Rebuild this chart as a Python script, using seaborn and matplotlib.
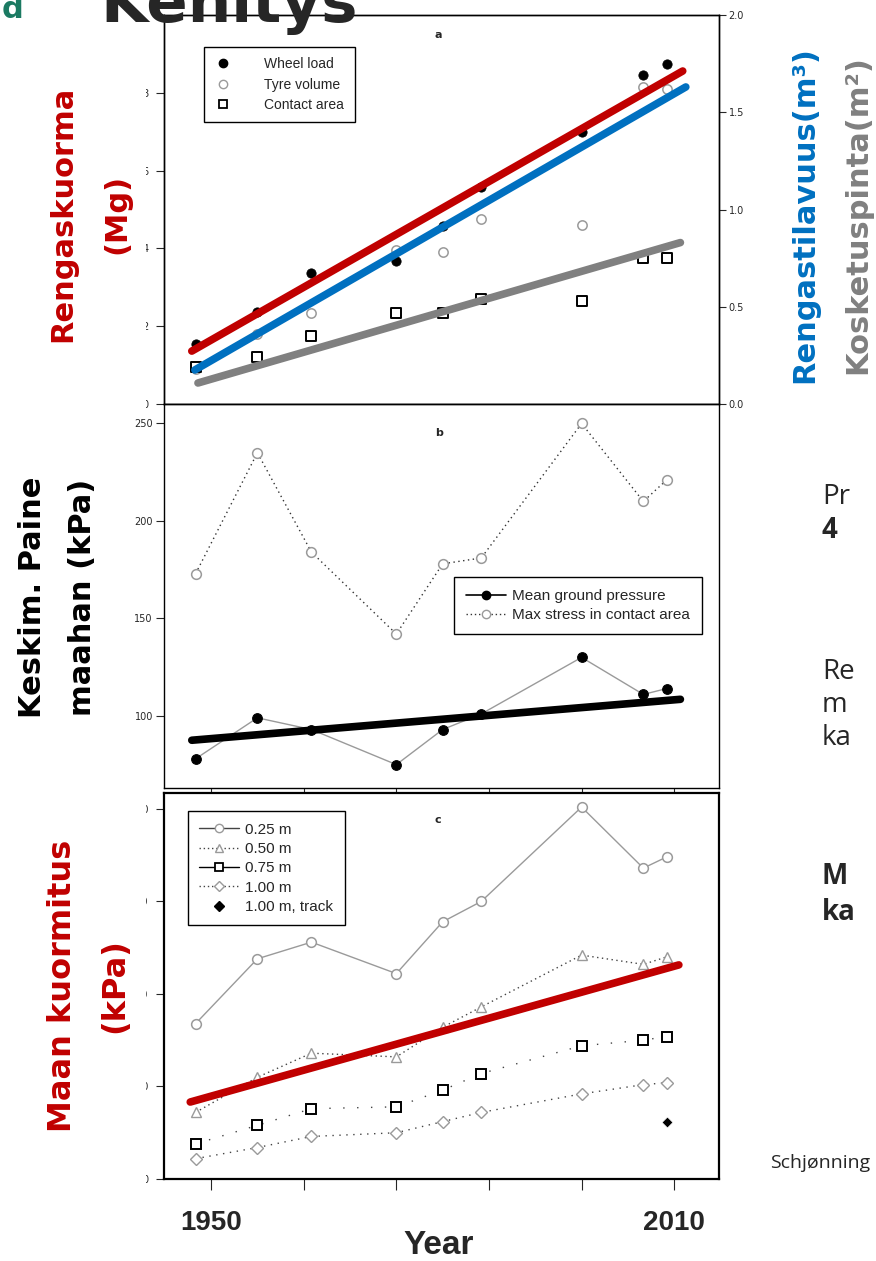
import numpy as np
import pandas as pd
import seaborn as sns
import matplotlib.pyplot as plt
from matplotlib.lines import Line2D
from matplotlib.transforms import Bbox, TransformedBbox

# observation years (shared by the three panels)
years = [1948, 1956, 1963, 1974, 1980, 1985, 1998, 2006, 2009]
year_ticks = [1950, 1962, 1974, 1986, 1998, 2010]
year_tick_labels = ['1950', '', '', '', '', '2010']

# panel a: wheel load (Mg, left axis), tyre volume (m3) and contact area (m2) on right axis
wheel_load = [1.54, 2.37, 3.37, 3.68, 4.58, 5.58, 6.99, 8.46, 8.74]
tyre_volume = [0.18, 0.36, 0.47, 0.79, 0.78, 0.95, 0.92, 1.63, 1.62]
contact_area = [0.19, 0.24, 0.35, 0.47, 0.47, 0.54, 0.53, 0.75, 0.75]
red_years, red_trend = [1947.5, 2011.1], [1.36, 8.56]
blue_years, blue_trend = [1947.9, 2011.5], [0.175, 1.63]
gray_years, gray_trend = [1948.3, 2010.8], [0.108, 0.83]

# panel b: pressures (kPa)
mean_pressure = [78, 99, 93, 75, 93, 101, 130, 111, 114]
max_stress = [173, 235, 184, 142, 178, 181, 250, 210, 221]
black_years, black_trend = [1947.5, 2010.8], [87.5, 108.5]

# panel c: vertical stress at depth (kPa)
stress_025 = [84, 119, 128, 111, 139, 150, 201, 168, 174]
stress_050 = [36, 55, 68, 66, 82, 93, 121, 116, 120]
stress_075 = [19, 29, 38, 39, 48, 57, 72, 75, 77]
stress_100 = [11, 17, 23, 25, 31, 36, 46, 51, 52]
track_year, track_100 = [2009], [31]
c_years, c_trend = [1947.3, 2010.6], [41.6, 115.7]

RED = '#C00000'
BLUE = '#0070C0'
GRAY = '#808080'
LGRAY = '#9a9a9a'

sns.set_style('ticks')
plt.rcParams['font.family'] = ['DejaVu Sans']
plt.rcParams['axes.edgecolor'] = 'black'
plt.rcParams['axes.linewidth'] = 1.0
NARROW = ['Liberation Sans Narrow', 'Liberation Sans', 'DejaVu Sans']

W, H = 876, 1261
fig = plt.figure(figsize=(W / 100, H / 100), dpi=100)


def box(l, t, r, b):
    return [l / W, 1 - b / H, (r - l) / W, (b - t) / H]


def clip_left(ax, x0):
    # the slide crops the left half of these tick labels
    bb = TransformedBbox(Bbox([[x0 / W, 0], [1, 1]]), fig.transFigure)
    for lbl in ax.get_yticklabels():
        lbl.set_clip_box(bb)
        lbl.set_clip_on(True)


ax_a = fig.add_axes(box(164, 15, 719, 404))
ax_b = fig.add_axes(box(164, 404, 719, 788))
ax_c = fig.add_axes(box(164, 793, 719, 1179))
ax_a2 = ax_a.twinx()
xlim = (1943.9, 2015.8)

# ---- panel a
sns.scatterplot(x=years, y=wheel_load, ax=ax_a, color='black', s=45, edgecolor='black', zorder=3)
sns.scatterplot(x=years, y=tyre_volume, ax=ax_a2, color='white', edgecolor=LGRAY, s=45, linewidth=1.1, zorder=2)
sns.scatterplot(x=years, y=contact_area, ax=ax_a2, marker='s', color='white', edgecolor='black', s=45,
                linewidth=1.4, zorder=3)
sns.lineplot(x=blue_years, y=blue_trend, ax=ax_a2, color=BLUE, lw=5.5, zorder=5)
sns.lineplot(x=gray_years, y=gray_trend, ax=ax_a2, color=GRAY, lw=5.5, zorder=5)
sns.lineplot(x=red_years, y=red_trend, ax=ax_a2, color=RED, lw=5.5, zorder=6,
             transform=ax_a.transData)
ax_a.set_xlim(xlim)
ax_a2.set_xlim(xlim)
ax_a.set_ylim(0, 10)
ax_a2.set_ylim(0, 2.0)
ax_a.set_xticks([])
ax_a.set_yticks([0, 2, 4, 6, 8])
ax_a2.set_yticks([0, 0.5, 1.0, 1.5, 2.0])
ax_a2.set_yticklabels(['0.0', '0.5', '1.0', '1.5', '2.0'])
ax_a.tick_params(axis='y', direction='out', length=6, labelsize=7, pad=5)
ax_a2.tick_params(axis='y', direction='out', length=5, labelsize=7, pad=2)
clip_left(ax_a, 146)
ax_a.text(0.494, 0.949, 'a', transform=ax_a.transAxes, ha='center', va='center', fontsize=8, fontweight='bold')
handles_a = [
    Line2D([], [], marker='o', color='black', ls='', ms=6),
    Line2D([], [], marker='o', mfc='white', mec=LGRAY, ls='', ms=6),
    Line2D([], [], marker='s', mfc='white', mec='black', mew=1.3, ls='', ms=6),
]
leg = ax_a2.legend(handles_a, ['Wheel load', 'Tyre volume', 'Contact area'], loc='upper left',
                   bbox_to_anchor=(0.072, 0.918), borderaxespad=0, fancybox=False, edgecolor='black',
                   framealpha=1, prop={'family': NARROW, 'size': 10}, handlelength=1.2,
                   handletextpad=2.4, labelspacing=0.45, borderpad=0.75)
leg.get_frame().set_linewidth(1.0)
ax_a.set_ylabel('Rengaskuorma\n(Mg)', color=RED, fontsize=22, fontweight='bold', linespacing=2.1)
ax_a.yaxis.set_label_coords(-0.058, 0.488)
ax_a2.set_ylabel('Rengastilavuus(m³)', color=BLUE, fontsize=22, fontweight='bold')
ax_a2.yaxis.set_label_coords(1.128, 0.486)
ax_a2.text(1.25, 0.486, 'Kosketuspinta(m²)', transform=ax_a2.transAxes, rotation=90, ha='center',
           va='center', color=GRAY, fontsize=22, fontweight='bold')

# ---- panel b
sns.lineplot(x=years, y=max_stress, ax=ax_b, color='#333333', lw=1.0, ls=(0, (1, 2.5)), marker='o', ms=7,
             mfc='white', mec=LGRAY, mew=1.1)
sns.lineplot(x=years, y=mean_pressure, ax=ax_b, color=LGRAY, lw=1.0, marker='o', ms=7,
             mfc='black', mec='black')
sns.lineplot(x=black_years, y=black_trend, ax=ax_b, color='black', lw=5.5, zorder=5)
ax_b.set_xlim(xlim)
ax_b.set_ylim(63, 260)
ax_b.set_xticks(year_ticks)
ax_b.set_xticklabels([])
ax_b.set_yticks([100, 150, 200, 250])
ax_b.tick_params(direction='out', length=6, labelsize=7, pad=2)
ax_b.text(0.496, 0.924, 'b', transform=ax_b.transAxes, ha='center', va='center', fontsize=8, fontweight='bold')
handles_b = [
    Line2D([], [], color='black', lw=1.2, marker='o', ms=6, mfc='black'),
    Line2D([], [], color='#333333', lw=1.0, ls=(0, (1, 2)), marker='o', ms=6, mfc='white', mec=LGRAY),
]
leg = ax_b.legend(handles_b, ['Mean ground pressure', 'Max stress in contact area'], loc='upper left',
                  bbox_to_anchor=(0.523, 0.549), borderaxespad=0, fancybox=False, edgecolor='black',
                  framealpha=1, prop={'family': NARROW, 'size': 11}, handlelength=2.6,
                  handletextpad=0.4, labelspacing=0.3, borderpad=0.8)
leg.get_frame().set_linewidth(1.0)
ax_b.set_ylabel('Keskim. Paine\nmaahan (kPa)', color='black', fontsize=22, fontweight='bold', linespacing=1.9)
ax_b.yaxis.set_label_coords(-0.121, 0.496)

# ---- panel c
sns.lineplot(x=years, y=stress_025, ax=ax_c, color=LGRAY, lw=1.0, marker='o', ms=7, mfc='white', mec=LGRAY, mew=1.1)
sns.lineplot(x=years, y=stress_050, ax=ax_c, color='#444444', lw=1.0, ls=(0, (1, 2.5)), marker='^', ms=7,
             mfc='white', mec=LGRAY, mew=1.0)
sns.lineplot(x=years, y=stress_075, ax=ax_c, color='#444444', lw=1.0, ls=(0, (1, 9)), marker='s', ms=7,
             mfc='white', mec='black', mew=1.4)
sns.lineplot(x=years, y=stress_100, ax=ax_c, color='#444444', lw=1.0, ls=(0, (1, 4)), marker='D', ms=6,
             mfc='white', mec=LGRAY, mew=1.0)
sns.scatterplot(x=track_year, y=track_100, ax=ax_c, marker='D', color='black', s=30)
sns.lineplot(x=c_years, y=c_trend, ax=ax_c, color=RED, lw=5.5, zorder=5)
ax_c.set_xlim(xlim)
ax_c.set_ylim(0, 208.6)
ax_c.set_yticks([0, 50, 100, 150, 200])
ax_c.set_xticks(year_ticks)
ax_c.set_xticklabels(year_tick_labels, fontsize=20, fontweight='bold', family=NARROW)
ax_c.tick_params(axis='x', direction='out', length=8, pad=14)
ax_c.tick_params(axis='y', direction='out', length=6, labelsize=7, pad=5)
for s in ax_c.spines.values():
    s.set_linewidth(1.6)
clip_left(ax_c, 146)
ax_c.text(0.494, 0.93, 'c', transform=ax_c.transAxes, ha='center', va='center', fontsize=8, fontweight='bold')
handles_c = [
    Line2D([], [], color='#444444', lw=1.0, marker='o', ms=6, mfc='white', mec=LGRAY),
    Line2D([], [], color='#444444', lw=1.0, ls=(0, (1, 2)), marker='^', ms=6, mfc='white', mec=LGRAY),
    Line2D([], [], color='black', lw=1.0, marker='s', ms=6, mfc='white', mec='black', mew=1.3),
    Line2D([], [], color='#444444', lw=1.0, ls=(0, (1, 2)), marker='D', ms=5, mfc='white', mec=LGRAY),
    Line2D([], [], color='black', ls='', marker='D', ms=5),
]
leg = ax_c.legend(handles_c, ['0.25 m', '0.50 m', '0.75 m', '1.00 m', '1.00 m, track'], loc='upper left',
                  bbox_to_anchor=(0.043, 0.953), borderaxespad=0, fancybox=False, edgecolor='black',
                  framealpha=1, prop={'family': NARROW, 'size': 11}, handlelength=2.6,
                  handletextpad=0.4, labelspacing=0.35, borderpad=0.75)
leg.get_frame().set_linewidth(1.0)
ax_c.set_ylabel('Maan kuormitus\n(kPa)', color=RED, fontsize=23, fontweight='bold', linespacing=1.9)
ax_c.yaxis.set_label_coords(-0.06, 0.5)
ax_c.set_xlabel('Year', fontsize=24, fontweight='bold', family=NARROW)
ax_c.xaxis.set_label_coords(0.495, -0.171)
ax_c.xaxis.label.set_va('center')

# ---- slide text around the chart
fig.text(100 / W, 1 - 22 / H, 'Kehitys', fontsize=44, fontweight='bold', ha='left', va='baseline')
fig.text(2 / W, 1 - 18 / H, 'd', fontsize=22, fontweight='bold', color='#1B7A62', ha='left', va='baseline')
side = [('Pr', 497, 'normal'), ('4', 530, 'bold'), ('Re', 672, 'normal'), ('m', 705, 'normal'),
        ('ka', 738, 'normal'), ('M', 877, 'bold'), ('ka', 912, 'bold')]
for txt, y, w in side:
    fig.text(822 / W, 1 - y / H, txt, fontsize=20, fontweight=w, family=['Open Sans', 'DejaVu Sans'],
             ha='left', va='center')
fig.text(770 / W, 1 - 1163 / H, 'Schjønning', fontsize=14, family=['Open Sans', 'DejaVu Sans'],
         ha='left', va='center')

fig.savefig('out.png', dpi=100)
